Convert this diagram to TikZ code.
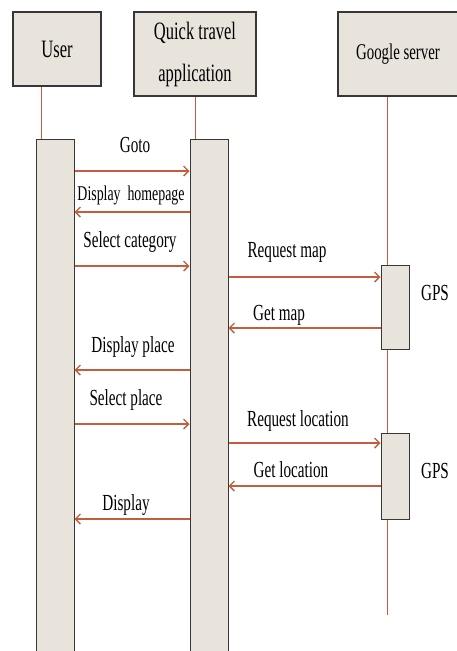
\documentclass[tikz,border=0pt]{standalone}
\usepackage{fontspec}
\setmainfont[FakeStretch=0.66]{Liberation Serif}
\usetikzlibrary{arrows.meta}
\definecolor{msgred}{RGB}{196,92,62}
\definecolor{boxfill}{RGB}{232,228,220}
\definecolor{boxline}{RGB}{55,55,55}
\begin{document}
\begin{tikzpicture}[x=1pt, y=-1pt,
    actor/.style={draw=boxline, fill=boxfill, line width=1.1pt, inner sep=0pt,
      align=center, font=\fontsize{25}{42}\selectfont},
    bar/.style={draw=boxline, fill=boxfill, line width=1pt, inner sep=0pt, minimum width=38pt},
    lifeline/.style={msgred, line width=0.8pt},
    msg/.style={msgred, line width=1.4pt, -{Straight Barb[length=5pt, width=10pt]}},
    lbl/.style={anchor=base, inner sep=0pt, font=\fontsize{23}{26}\selectfont}]

  \useasboundingbox (0,0) rectangle (456,651);

  % Actors
  \node[actor, minimum width=88pt, minimum height=74pt] (user) at (57,49) {User};
  \node[actor, minimum width=122pt, minimum height=84pt] (qta) at (195,54) {Quick travel\\application};
  \node[actor, minimum width=128pt, minimum height=84pt, font=\fontsize{22.5}{26}\selectfont]
    (google) at (402,54) {Google server\hspace*{8pt}};

  % Activation bars
  \node[bar, minimum height=521pt, anchor=north] (ubar) at (55,139) {};
  \node[bar, minimum height=521pt, anchor=north] (qbar) at (209,139) {};

  % Lifelines
  \coordinate (gend) at (387,615);
  \draw[lifeline] ([xshift=-16pt]user.south) -- ([xshift=-14pt]ubar.north);
  \draw[lifeline] (qta.south) -- ([xshift=-14pt]qbar.north);
  \draw[lifeline] ([xshift=-15pt]google.south) -- (gend);

  % GPS calls on the server
  \node[bar, minimum width=28pt, minimum height=84pt] (gps1) at (395,307) {};
  \node[bar, minimum width=28pt, minimum height=86pt] (gps2) at (395,476) {};
  \node[lbl] (gpsa) at (435,300) {GPS};
  \node[lbl] (gpsb) at (435,478) {GPS};

  % Messages user <-> application
  \draw[msg] (ubar.east |- 0,171) -- (qbar.west |- 0,171);
  \node[lbl] (goto) at (135,152) {Goto};
  \draw[msg] (qbar.west |- 0,212) -- (ubar.east |- 0,212);
  \node[lbl, font=\fontsize{21}{24}\selectfont] (home) at (131,200) {Display\ \ homepage};
  \draw[msg] (ubar.east |- 0,266) -- (qbar.west |- 0,266);
  \node[lbl] (selcat) at (130,247) {Select category};

  % Map request
  \draw[msg] (qbar.east |- 0,277) -- (gps1.west |- 0,277);
  \node[lbl] (reqmap) at (287,257) {Request map};
  \draw[msg] (gps1.west |- 0,328) -- (qbar.east |- 0,328);
  \node[lbl] (getmap) at (279,320) {Get map};

  \draw[msg] (qbar.west |- 0,370) -- (ubar.east |- 0,370);
  \node[lbl] (displace) at (133,352) {Display place};
  \draw[msg] (ubar.east |- 0,424) -- (qbar.west |- 0,424);
  \node[lbl] (selplace) at (126,405) {Select place};

  % Location request
  \draw[msg] (qbar.east |- 0,443) -- (gps2.west |- 0,443);
  \node[lbl] (reqloc) at (298,426) {Request location};
  \draw[msg] (gps2.west |- 0,486) -- (qbar.east |- 0,486);
  \node[lbl] (getloc) at (291,477) {Get location};

  \draw[msg] (qbar.west |- 0,519) -- (ubar.east |- 0,519);
  \node[lbl] (display) at (126,510) {Display};
\end{tikzpicture}
\end{document}
